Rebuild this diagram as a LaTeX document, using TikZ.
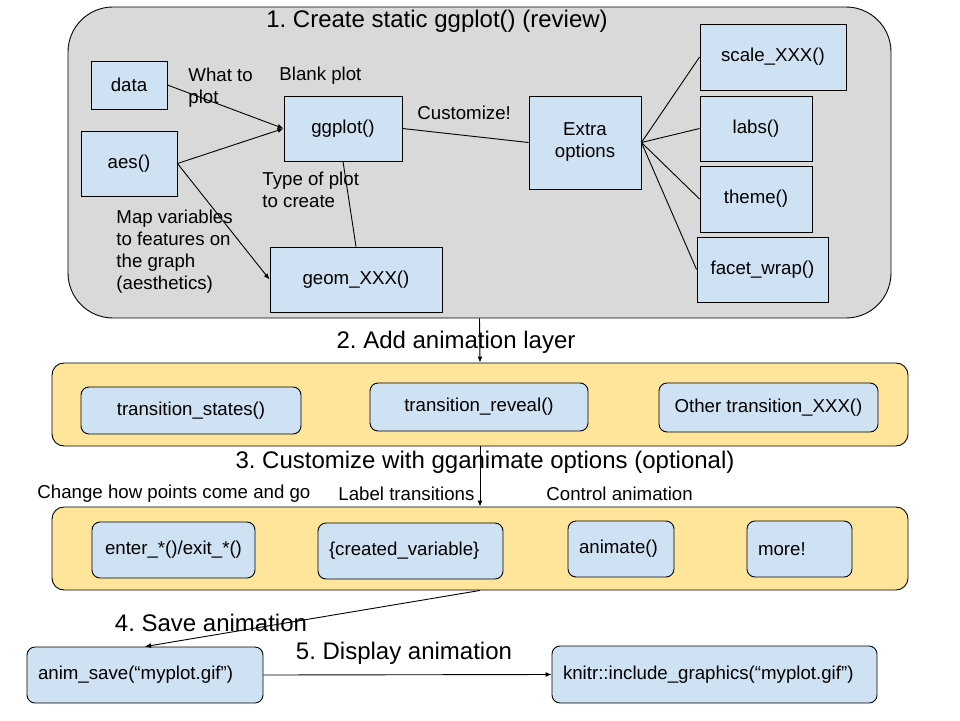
\documentclass[tikz,border=0pt]{standalone}
\usepackage{fontspec}
\setmainfont{Liberation Sans}
\usepackage{tikz}
\usetikzlibrary{
  arrows.meta,
  positioning,
}
\frenchspacing
\definecolor{panelgray}{HTML}{D9D9D9}
\definecolor{boxblue}{HTML}{CFE2F3}
\definecolor{bandyellow}{HTML}{FFE599}
\newcommand{\bodyfont}{\fontsize{18.67}{22}\selectfont}
\newcommand{\headfont}{\fontsize{24}{28}\selectfont}
\tikzset{
  >={Latex[length=6pt,width=5pt]},
  box/.style={draw, line width=0.9pt, fill=boxblue, inner sep=0pt, align=center, font=\bodyfont},
  rbox/.style={box, rounded corners=8pt},
  lbox/.style={rbox, align=left, inner xsep=11pt},
  band/.style={draw, line width=0.9pt, fill=bandyellow, rounded corners=12pt, inner sep=0pt},
  note/.style={anchor=west, align=left, inner sep=0pt, font=\bodyfont},
  head/.style={inner sep=0pt, font=\headfont},
}

\begin{document}
\begin{tikzpicture}[x=1pt, y=-1pt, line width=0.9pt]
      \useasboundingbox (0, 0) rectangle (960, 720);

      % 1. static plot
      \node [draw, fill=panelgray, rounded corners=45pt, minimum width=823pt, minimum height=311pt] (static) at (479.5, 162.5) {};
      \node [head] (head1) at (437, 21) {1. Create static ggplot() (review)};
      \node [box, minimum width=76pt, minimum height=48pt] (data) at (129, 85) {data};
      \node [box, minimum width=96pt, minimum height=65pt] (aes) at (129, 163.5) {aes()};
      \node [box, minimum width=118pt, minimum height=65pt] (ggplot) at (343, 128.5) {ggplot()};
      \node [box, minimum width=172pt, minimum height=65pt] (geom) at (356, 279.5) {geom\_XXX()};
      \node [box, minimum width=112pt, minimum height=93pt] (extra) at (585, 142.5) {Extra\\options};
      \node [box, minimum width=146pt, minimum height=66pt] (scale) at (773, 57) {scale\_XXX()};
      \node [box, minimum width=112pt, minimum height=65pt] (labs) at (756, 128.5) {labs()};
      \node [box, minimum width=112pt, minimum height=66pt] (theme) at (756, 199) {theme()};
      \node [box, minimum width=131pt, minimum height=65pt] (facet) at (762.5, 269.5) {facet\_wrap()};

      \node [note] (whatto) at (188, 88) {What to\\plot};
      \node [note] (blank) at (279, 76) {Blank plot};
      \node [note] (custom) at (417, 113) {Customize!};
      \node [note] (typeof) at (262, 190) {Type of plot\\to create};
      \node [note] (mapvar) at (116, 252) {Map variables\\to features on\\the graph\\(aesthetics)};

      \draw [->] (data.east) -- (ggplot.west);
      \draw [->] (aes.east) -- (ggplot.west);
      \draw [->] (aes.east) -- (geom.west);
      \draw (ggplot.south) -- (geom.north);
      \draw (ggplot.east) -- (extra.west);
      \foreach \opt in {scale, labs, theme, facet}
      {
        \draw (extra.east) -- (\opt.west);
      }

      % 2. animation layer
      \node [band, minimum width=856pt, minimum height=83pt] (layer) at (480, 404.5) {};
      \node [head] (head2) at (456, 342) {2. Add animation layer};
      \node [rbox, minimum width=220pt, minimum height=47pt] (states) at (191, 410.5) {transition\_states()};
      \node [rbox, minimum width=218pt, minimum height=48pt] (reveal) at (479, 407) {transition\_reveal()};
      \node [rbox, minimum width=219pt, minimum height=49pt] (other) at (768.5, 407.5) {Other transition\_XXX()};

      % 3. gganimate options
      \node [head] (head3) at (485, 462) {3. Customize with gganimate options (optional)};
      \node [note] (change) at (37, 494) {Change how points come and go};
      \node [note] (labeltr) at (338, 494) {Label transitions};
      \node [note] (control) at (546, 494) {Control animation};
      \node [band, minimum width=856pt, minimum height=83pt] (options) at (480, 548.5) {};
      \node [rbox, minimum width=163pt, minimum height=56pt] (enter) at (173.5, 550) {enter\_*()/exit\_*()};
      \node [lbox, text width=163pt, minimum height=56pt] (created) at (410.5, 551) {\{created\_variable\}};
      \node [lbox, text width=84pt, minimum height=56pt] (animate) at (621, 549) {animate()};
      \node [lbox, text width=83pt, minimum height=56pt] (more) at (799.5, 549) {more!};

      % 4. and 5.
      \node [head] (head4) at (211, 623) {4. Save animation};
      \node [head] (head5) at (404, 653) {5. Display animation};
      \node [lbox, text width=214pt, minimum height=56pt] (save) at (145, 675) {anim\_save(“myplot.gif”)};
      \node [lbox, text width=303pt, minimum height=57pt] (knitr) at (714.5, 674.5) {knitr::include\_graphics(“myplot.gif”)};

      \draw [->] (static.south) -- (layer.north);
      \draw [->] (layer.south) -- (options.north);
      \draw [->] (options.south) -- (save.north);
      \draw [->] (save.east) -- (knitr.west);
    \end{tikzpicture}
\end{document}
